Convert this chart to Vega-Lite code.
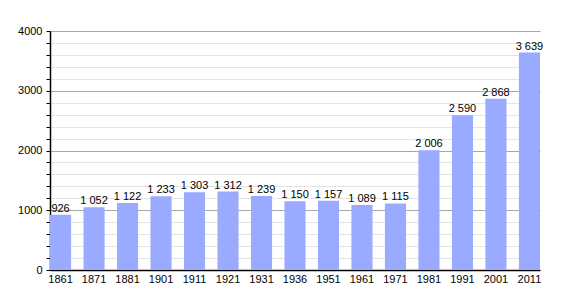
{
  "$schema": "https://vega.github.io/schema/vega-lite/v6.json",
  "width": 490,
  "height": 239,
  "autosize": "none",
  "padding": {"left": 50, "top": 31, "right": 30, "bottom": 30},
  "config": {
    "font": "Liberation Sans",
    "view": {"stroke": null},
    "locale": {"number": {"decimal": ",", "thousands": " ", "grouping": [3], "currency": ["", " €"]}}
  },
  "data": {
    "values": [
      {"year": "1861", "pop": 926},
      {"year": "1871", "pop": 1052},
      {"year": "1881", "pop": 1122},
      {"year": "1901", "pop": 1233},
      {"year": "1911", "pop": 1303},
      {"year": "1921", "pop": 1312},
      {"year": "1931", "pop": 1239},
      {"year": "1936", "pop": 1150},
      {"year": "1951", "pop": 1157},
      {"year": "1961", "pop": 1089},
      {"year": "1971", "pop": 1115},
      {"year": "1981", "pop": 2006},
      {"year": "1991", "pop": 2590},
      {"year": "2001", "pop": 2868},
      {"year": "2011", "pop": 3639}
    ]
  },
  "encoding": {
    "x": {
      "field": "year",
      "type": "ordinal",
      "sort": null,
      "scale": {"paddingInner": 0.37, "paddingOuter": 0},
      "axis": {
        "title": null,
        "labelAngle": 0,
        "ticks": false,
        "labelPadding": 3,
        "labelFontSize": 11,
        "labelColor": "#000",
        "domainColor": "#000",
        "domainWidth": 1.5,
        "grid": false
      }
    },
    "y": {
      "field": "pop",
      "type": "quantitative",
      "scale": {"domain": [0, 4000], "nice": false},
      "axis": {
        "title": null,
        "values": [0, 200, 400, 600, 800, 1000, 1200, 1400, 1600, 1800, 2000, 2200, 2400, 2600, 2800, 3000, 3200, 3400, 3600, 3800, 4000],
        "format": "d",
        "labelExpr": "datum.value % 1000 === 0 ? datum.label : ''",
        "labelFontSize": 11,
        "labelColor": "#000",
        "labelPadding": 4,
        "tickSize": 4,
        "tickColor": "#000",
        "domainColor": "#000",
        "domainWidth": 1.5,
        "grid": true,
        "gridColor": {"condition": {"test": "datum.value % 1000 === 0", "value": "#a8a8a8"}, "value": "#e4e4e4"},
        "zindex": 0
      }
    }
  },
  "layer": [
    {"mark": {"type": "bar", "color": "#99aaff"}},
    {
      "mark": {"type": "text", "baseline": "bottom", "dy": -1, "fontSize": 11, "color": "#000"},
      "encoding": {"text": {"field": "pop", "type": "quantitative", "format": ","}}
    }
  ]
}
